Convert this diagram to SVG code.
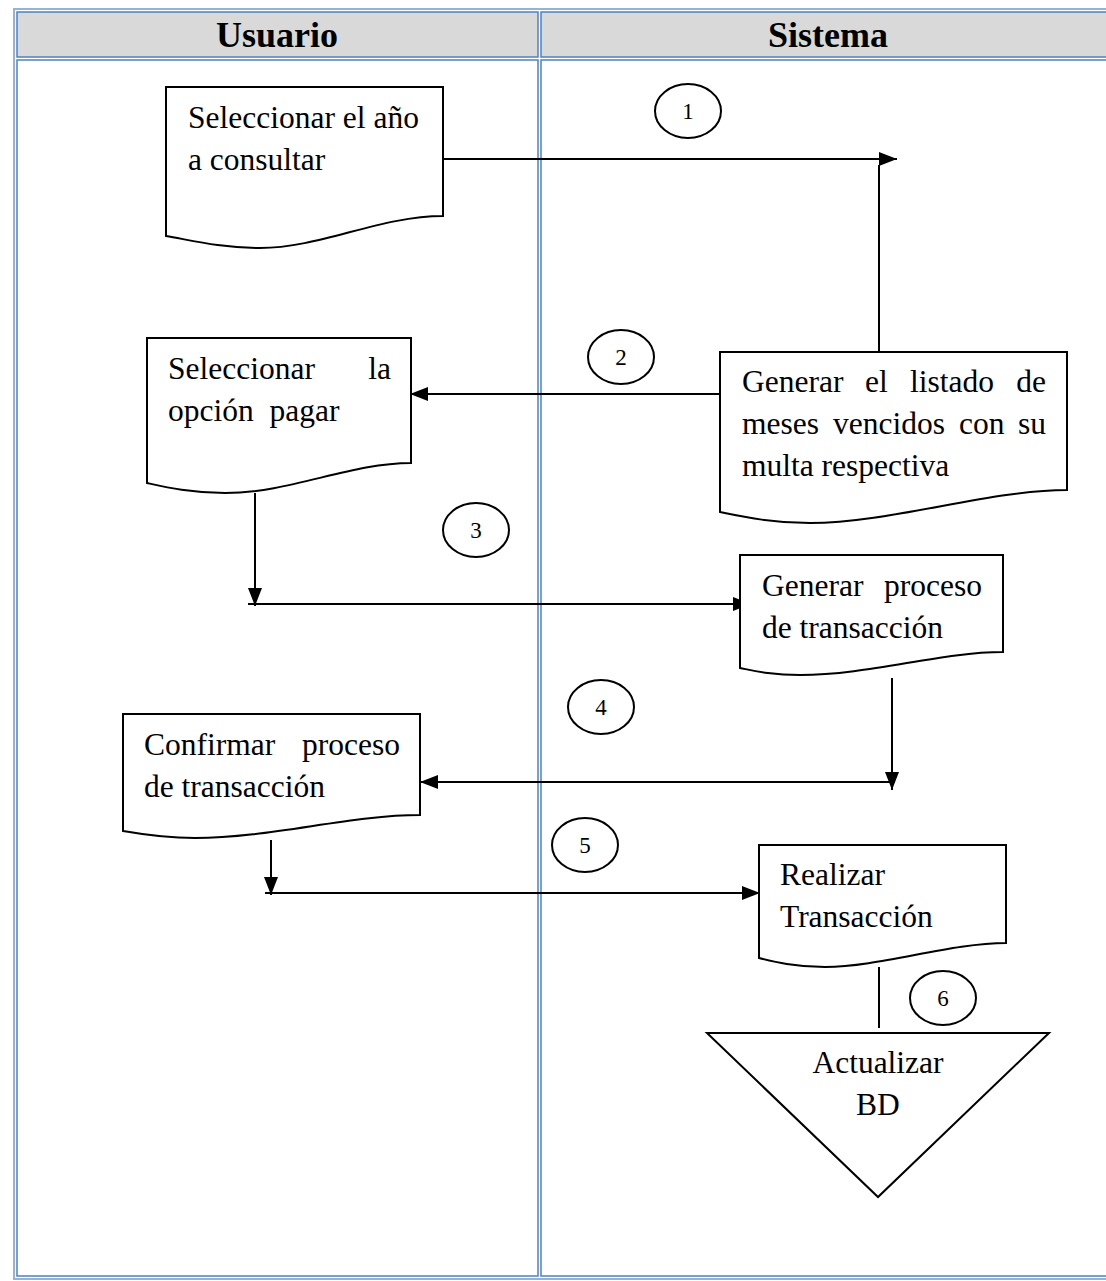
<svg xmlns="http://www.w3.org/2000/svg" width="1106" height="1281" viewBox="0 0 1106 1281">
<defs>
<style>
.cell{fill:none;stroke:#4F81BD;stroke-width:1.5}
.outer{fill:none;stroke:#95B3D7;stroke-width:2}
.hdr{fill:#D9D9D9}
.ht{font-family:"Liberation Serif",serif;font-weight:bold;font-size:36px;text-anchor:middle;fill:#000}
.doc{fill:#fff;stroke:#000;stroke-width:2}
.t{font-family:"Liberation Serif",serif;font-size:31.5px;fill:#000}
.e{text-anchor:end}
.m{text-anchor:middle}
.c{fill:#fff;stroke:#000;stroke-width:2}
.n{font-family:"Liberation Serif",serif;font-size:23px;text-anchor:middle;fill:#000}
.ln{fill:none;stroke:#000;stroke-width:2}
</style>
<marker id="ar" viewBox="0 0 18 14" refX="18" refY="7" markerWidth="18" markerHeight="14" markerUnits="userSpaceOnUse" orient="auto">
<path d="M0,0 L18,7 L0,14 z" fill="#000"/>
</marker>
</defs>
<rect width="1106" height="1281" fill="#fff"/>
<g id="table">
<rect class="hdr" x="17" y="12" width="521" height="45"/>
<rect class="hdr" x="541" y="12" width="570" height="45"/>
<path class="outer" d="M1110,9 H14 V1279 H1110"/>
<rect class="cell" x="17" y="12" width="521" height="45"/>
<rect class="cell" x="541" y="12" width="570" height="45"/>
<rect class="cell" x="17" y="60" width="521" height="1216"/>
<rect class="cell" x="541" y="60" width="570" height="1216"/>
<text class="ht" x="277" y="47">Usuario</text>
<text class="ht" x="828" y="47">Sistema</text>
</g>
<g id="connectors">
<path class="ln" d="M443,159 H897" marker-end="url(#ar)"/>
<path class="ln" d="M879,352 V165"/>
<path class="ln" d="M720,394 H410" marker-end="url(#ar)"/>
<path class="ln" d="M255,493 V606" marker-end="url(#ar)"/>
<path class="ln" d="M248,604 H751" marker-end="url(#ar)"/>
<path class="ln" d="M892,678 V790" marker-end="url(#ar)"/>
<path class="ln" d="M895,782 H420" marker-end="url(#ar)"/>
<path class="ln" d="M271,840 V895" marker-end="url(#ar)"/>
<path class="ln" d="M265,893 H760" marker-end="url(#ar)"/>
<path class="ln" d="M879,967 V1028"/>
</g>
<g id="n1">
<path class="doc" d="M166,87 H443 V216 C380,216 320,248 260,248 C220,248 190,240 166,236 Z"/>
<text class="t" x="188" y="128">Seleccionar el año</text>
<text class="t" x="188" y="170">a consultar</text>
</g>
<g id="n2">
<path class="doc" d="M147,338 H411 V463 C350,463 290,493 225,493 C190,493 165,487 147,483 Z"/>
<text class="t" x="168" y="379">Seleccionar</text>
<text class="t e" x="391" y="379">la</text>
<text class="t" x="168" y="421" xml:space="preserve">opción  pagar</text>
</g>
<g id="n3">
<path class="doc" d="M720,352 H1067 V490 C990,490 890,523 810,523 C770,523 740,516 720,512 Z"/>
<text class="t" x="742" y="392">Generar</text>
<text class="t" x="865" y="392">el</text>
<text class="t" x="910" y="392">listado</text>
<text class="t e" x="1046" y="392">de</text>
<text class="t" x="742" y="434">meses</text>
<text class="t" x="833" y="434">vencidos</text>
<text class="t" x="959" y="434">con</text>
<text class="t e" x="1046" y="434">su</text>
<text class="t" x="742" y="476">multa respectiva</text>
</g>
<g id="n4">
<path class="doc" d="M740,555 H1003 V652 C940,652 870,675 800,675 C770,675 755,671 740,668 Z"/>
<text class="t" x="762" y="596">Generar</text>
<text class="t e" x="982" y="596">proceso</text>
<text class="t" x="762" y="638">de transacción</text>
</g>
<g id="n5">
<path class="doc" d="M123,714 H420 V815 C350,815 270,838 195,838 C160,838 140,834 123,831 Z"/>
<text class="t" x="144" y="755">Confirmar</text>
<text class="t e" x="400" y="755">proceso</text>
<text class="t" x="144" y="797">de transacción</text>
</g>
<g id="n6">
<path class="doc" d="M759,845 H1006 V943 C950,943 880,967 825,967 C795,967 775,962 759,958 Z"/>
<text class="t" x="780" y="885">Realizar</text>
<text class="t" x="780" y="927">Transacción</text>
</g>
<g id="n7">
<path class="doc" d="M707,1033 H1049 L878,1197 Z"/>
<text class="t m" x="878" y="1073">Actualizar</text>
<text class="t m" x="878" y="1115">BD</text>
</g>
<g id="c1"><ellipse class="c" cx="688" cy="111" rx="33" ry="27"/><text class="n" x="688" y="119">1</text></g>
<g id="c2"><ellipse class="c" cx="621" cy="357" rx="33" ry="27"/><text class="n" x="621" y="365">2</text></g>
<g id="c3"><ellipse class="c" cx="476" cy="530" rx="33" ry="27"/><text class="n" x="476" y="538">3</text></g>
<g id="c4"><ellipse class="c" cx="601" cy="707" rx="33" ry="27"/><text class="n" x="601" y="715">4</text></g>
<g id="c5"><ellipse class="c" cx="585" cy="845" rx="33" ry="27"/><text class="n" x="585" y="853">5</text></g>
<g id="c6"><ellipse class="c" cx="943" cy="998" rx="33" ry="27"/><text class="n" x="943" y="1006">6</text></g>
</svg>
